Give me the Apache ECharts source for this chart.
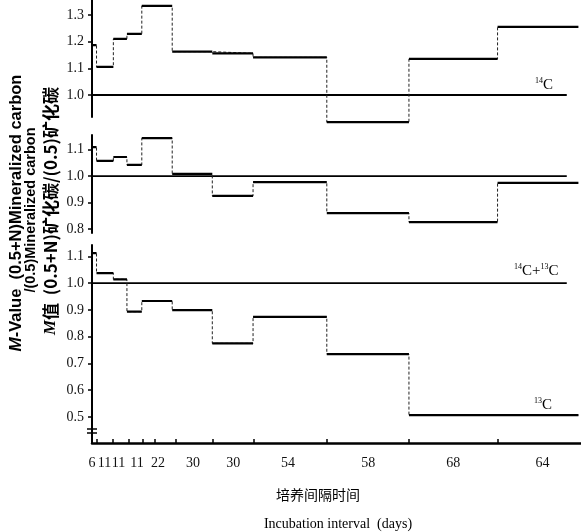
<!DOCTYPE html>
<html><head><meta charset="utf-8">
<script src="https://cdn.jsdelivr.net/npm/echarts@6/dist/echarts.min.js"></script>
<style>html,body{margin:0;padding:0;background:#fff}#c{width:581px;height:532px}</style>
</head><body><div id="c"></div>
<script>
// Step boundaries along the incubation time axis (cumulative days)
const stepEdges = [0, 3.5, 16.5, 27, 38.5, 62, 93, 124.5, 181.5, 245, 313.5, 376];
// M-values per interval, three panels
const mValue14C   = [1.187, 1.105, 1.21, 1.229, 1.334, 1.1625, 1.156, 1.141, 0.898, 1.135, 1.255];
const mValueMid   = [1.109, 1.057, 1.072, 1.042, 1.143, 1.008, 0.925, 0.977, 0.860, 0.826, 0.974];
const mValue13C   = [1.112, 1.037, 1.014, 0.893, 0.933, 0.899, 0.775, 0.874, 0.735, 0.507, 0.507];
// x-axis interval labels and their positions (days), tick positions
const intervalLabels = ['6','11','11','11','22','30','30','54','58','68','64'];
const intervalLabelPos = [0, 9.7, 20.5, 34.8, 51.1, 78.1, 109.1, 151.6, 213.5, 279.3, 348.2];
const xTickPos = [3.9, 16.2, 28.6, 39.5, 48.7, 65, 93.6, 125.3, 181.8, 245.2, 314];
// y tick labels per panel
const yTicks1 = [1.0, 1.1, 1.2, 1.3];
const yTicks2 = [0.8, 0.9, 1.0, 1.1];
const yTicks3 = [0.5, 0.6, 0.7, 0.8, 0.9, 1.0, 1.1];
const refValue = 1.0;
const refEnd = 367;

const X_MAX = 378;
const serif = 'Liberation Serif';

function riserData(vals){
  const d = vals.map((v,i)=>[stepEdges[i], v]);
  d.push([stepEdges[vals.length], vals[vals.length-1]]);
  return d;
}
function flatData(vals){
  const d = [];
  vals.forEach((v,i)=>{ d.push([stepEdges[i], v]); d.push([stepEdges[i+1], v]); d.push([stepEdges[i+1], '-']); });
  return d;
}
function yAxisDef(idx, min, max, ticks){
  return {
    type:'value', gridIndex: idx, min, max,
    axisLine:{show:true, lineStyle:{color:'#000', width:2}},
    axisTick:{show:true, length:4, customValues: ticks, lineStyle:{color:'#000', width:1.5}},
    axisLabel:{show:true, customValues: ticks, margin:8, color:'#111',
      fontFamily: serif, fontSize:14, formatter: v => Number(v).toFixed(1)},
    splitLine:{show:false}
  };
}
function xAxisDef(idx, show){
  const ax = {type:'value', gridIndex: idx, min:0, max:X_MAX, splitLine:{show:false}};
  if(!show){ ax.show = false; return ax; }
  ax.axisLine = {show:true, onZero:false, lineStyle:{color:'#000', width:2.5}};
  ax.axisTick = {show:true, inside:true, length:4, customValues: xTickPos, lineStyle:{color:'#000', width:1.5}};
  ax.axisLabel = {show:true, customValues: intervalLabelPos, margin:13, color:'#111',
    fontFamily: serif, fontSize:14,
    formatter: v => { let k=0, best=1e9; intervalLabelPos.forEach((p,i)=>{ const d=Math.abs(p-v); if(d<best){best=d;k=i;} }); return intervalLabels[k]; }};
  return ax;
}
function panelSeries(idx, vals){
  return [
    {type:'line', xAxisIndex:idx, yAxisIndex:idx, data:[[0,refValue],[refEnd,refValue]], symbol:'none',
     lineStyle:{color:'#000', width:1.8}, silent:true, z:2, clip:false},
    {type:'line', xAxisIndex:idx, yAxisIndex:idx, data:riserData(vals), step:'end', symbol:'none',
     lineStyle:{color:'#222', width:1, type:[3,2]}, silent:true, z:3, clip:false},
    {type:'line', xAxisIndex:idx, yAxisIndex:idx, data:flatData(vals), connectNulls:false, symbol:'none',
     lineStyle:{color:'#000', width:2.2}, silent:true, z:4, clip:false}
  ];
}

const chart = echarts.init(document.getElementById('c'), null, {renderer:'canvas'});
chart.setOption({
  animation:false,
  backgroundColor:'#fff',
  grid:[
    {left:92, top:0, width:489, height:117},
    {left:92, top:135, width:489, height:98},
    {left:92, top:245, width:489, height:198}
  ],
  xAxis:[xAxisDef(0,false), xAxisDef(1,false), xAxisDef(2,true)],
  yAxis:[
    yAxisDef(0, 0.9175, 1.356, yTicks1),
    yAxisDef(1, 0.785, 1.155, yTicks2),
    yAxisDef(2, 0.403, 1.142, yTicks3)
  ],
  series:[].concat(panelSeries(0, mValue14C), panelSeries(1, mValueMid), panelSeries(2, mValue13C)),
  graphic:[
    // axis break marks on lower y-axis
    {type:'line', shape:{x1:87, y1:429, x2:97, y2:429}, style:{stroke:'#000', lineWidth:1.5}},
    {type:'line', shape:{x1:87, y1:433, x2:97, y2:433}, style:{stroke:'#000', lineWidth:1.5}},
    // curve labels
    {type:'text', x:535, y:77, style:{text:'{s|14}{c|C}', rich:{s:{fontSize:8, fontFamily:serif, fill:'#000', padding:[0,0,8,0]}, c:{fontSize:15, fontFamily:serif, fill:'#000'}}}},
    {type:'text', x:514, y:263, style:{text:'{s|14}{c|C+}{s|13}{c|C}', rich:{s:{fontSize:8, fontFamily:serif, fill:'#000', padding:[0,0,8,0]}, c:{fontSize:15, fontFamily:serif, fill:'#000'}}}},
    {type:'text', x:534, y:397, style:{text:'{s|13}{c|C}', rich:{s:{fontSize:8, fontFamily:serif, fill:'#000', padding:[0,0,8,0]}, c:{fontSize:15, fontFamily:serif, fill:'#000'}}}},
    // y-axis titles (rotated)
    {type:'text', x:16, y:213, rotation:Math.PI/2, style:{text:'{i|M}{b|-Value  (0.5+N)Mineralized carbon}', align:'center', verticalAlign:'middle',
      rich:{i:{fontStyle:'italic', fontWeight:'bold', fontSize:17, fontFamily:'Liberation Sans', fill:'#000'}, b:{fontWeight:'bold', fontSize:16.5, fontFamily:'Liberation Sans', fill:'#000'}}}},
    {type:'text', x:31, y:210, rotation:Math.PI/2, style:{text:'/(0.5)Mineralized carbon', align:'center', verticalAlign:'middle',
      fontWeight:'bold', fontSize:14.5, fontFamily:'Liberation Sans', fill:'#000'}},
    {type:'text', x:51, y:211, rotation:Math.PI/2, style:{text:'{i|M}{b|值  (0.5+N)矿化碳/(0.5)矿化碳}', align:'center', verticalAlign:'middle',
      rich:{i:{fontStyle:'italic', fontWeight:'bold', fontSize:17, fontFamily:'Liberation Serif', fill:'#000'}, b:{fontWeight:'bold', fontSize:17, fontFamily:'Noto Sans CJK SC', fill:'#000'}}}},
    // x-axis titles
    {type:'text', x:318, y:495, style:{text:'培养间隔时间', align:'center', verticalAlign:'middle', fontSize:14, fontFamily:'Noto Sans CJK SC', fill:'#000'}},
    {type:'text', x:338, y:524, style:{text:'Incubation interval  (days)', align:'center', verticalAlign:'middle', fontSize:14, fontFamily:serif, fill:'#000'}}
  ]
});
</script></body></html>
